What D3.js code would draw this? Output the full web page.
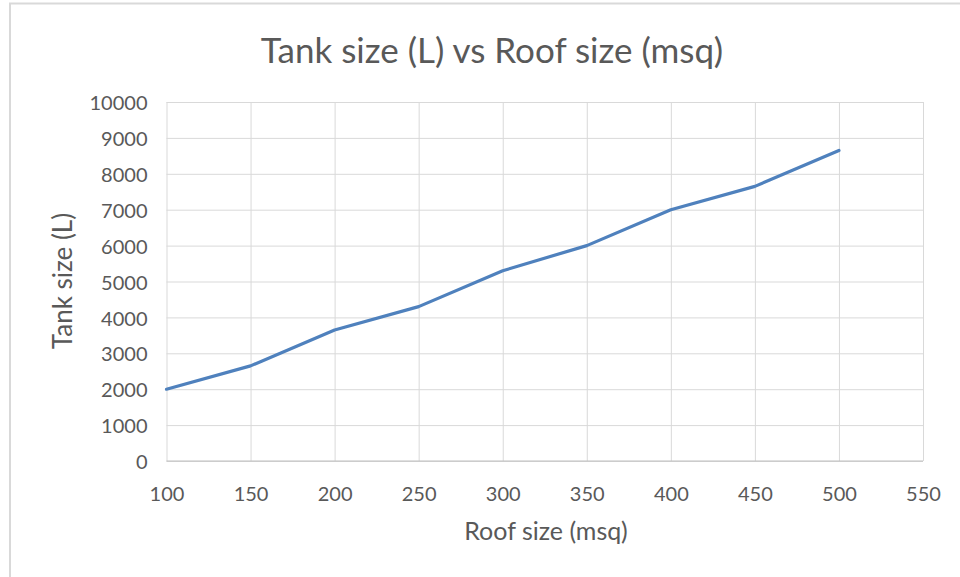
<!DOCTYPE html>
<html>
<head>
<meta charset="utf-8">
<script src="https://cdn.jsdelivr.net/npm/d3@7"></script>
<style>
  html, body { margin: 0; padding: 0; background: #ffffff; }
  svg { display: block; }
  text { font-family: Lato, "Open Sans", sans-serif; fill: #595959; }
</style>
</head>
<body>
<script>
// Roof size (m²) against the recommended tank size (L)
const roofSizes = [100, 150, 200, 250, 300, 350, 400, 450, 500];
const tankSizes = [2000, 2650, 3650, 4300, 5300, 6000, 7000, 7650, 8650];
const xTicks = [100, 150, 200, 250, 300, 350, 400, 450, 500, 550];
const yTicks = [0, 1000, 2000, 3000, 4000, 5000, 6000, 7000, 8000, 9000, 10000];

const chartTitle = "Tank size (L) vs Roof size (msq)";
const xTitle = "Roof size (msq)";
const yTitle = "Tank size (L)";

const W = 960, H = 577;
const plot = { left: 166.5, right: 923, top: 102, bottom: 461 };

const svg = d3.select("body").append("svg")
  .attr("width", W).attr("height", H);

// outer frame of the chart area
svg.append("line").attr("x1", 9).attr("x2", W).attr("y1", 3.5).attr("y2", 3.5)
  .attr("stroke", "#d9d9d9").attr("stroke-width", 2);
svg.append("line").attr("x1", 10).attr("x2", 10).attr("y1", 3).attr("y2", H)
  .attr("stroke", "#d9d9d9").attr("stroke-width", 2);

const x = d3.scaleLinear().domain([100, 550]).range([plot.left, plot.right]);
const y = d3.scaleLinear().domain([0, 10000]).range([plot.bottom, plot.top]);

// horizontal gridlines + y tick labels
const yAxis = d3.axisLeft(y).tickValues(yTicks).tickSize(-(plot.right - plot.left))
  .tickPadding(19).tickFormat(d3.format("d"));
const gy = svg.append("g").attr("transform", `translate(${plot.left},0)`).call(yAxis);
gy.select(".domain").remove();
gy.selectAll(".tick line").attr("stroke", "#d9d9d9").attr("stroke-width", 1);
gy.selectAll(".tick text").style("font-size", "20px").attr("fill", "#595959")
  .attr("dy", "0.38em");

// vertical gridlines + x tick labels
const xAxis = d3.axisBottom(x).tickValues(xTicks).tickSize(-(plot.bottom - plot.top))
  .tickPadding(26).tickFormat(d3.format("d"));
const gx = svg.append("g").attr("transform", `translate(0,${plot.bottom})`).call(xAxis);
gx.select(".domain").remove();
gx.selectAll(".tick line").attr("stroke", "#d9d9d9").attr("stroke-width", 1);
gx.selectAll(".tick text").style("font-size", "20px").attr("fill", "#595959");

// x axis baseline
svg.append("line").attr("x1", plot.left).attr("x2", plot.right)
  .attr("y1", plot.bottom).attr("y2", plot.bottom)
  .attr("stroke", "#bfbfbf").attr("stroke-width", 1.2);

// data line
const line = d3.line().x((d, i) => x(roofSizes[i])).y(d => y(d));
svg.append("path").datum(tankSizes)
  .attr("d", line)
  .attr("fill", "none")
  .attr("stroke", "#4f81bd")
  .attr("stroke-width", 3.2)
  .attr("stroke-linejoin", "round")
  .attr("stroke-linecap", "round");

// titles
svg.append("text").attr("x", 492).attr("y", 63)
  .attr("text-anchor", "middle").style("font-size", "35px")
  .text(chartTitle);

svg.append("text").attr("x", 546).attr("y", 540)
  .attr("text-anchor", "middle").style("font-size", "25px")
  .text(xTitle);

svg.append("text")
  .attr("transform", "translate(72,281) rotate(-90)")
  .attr("text-anchor", "middle").style("font-size", "26px")
  .text(yTitle);
</script>
</body>
</html>
